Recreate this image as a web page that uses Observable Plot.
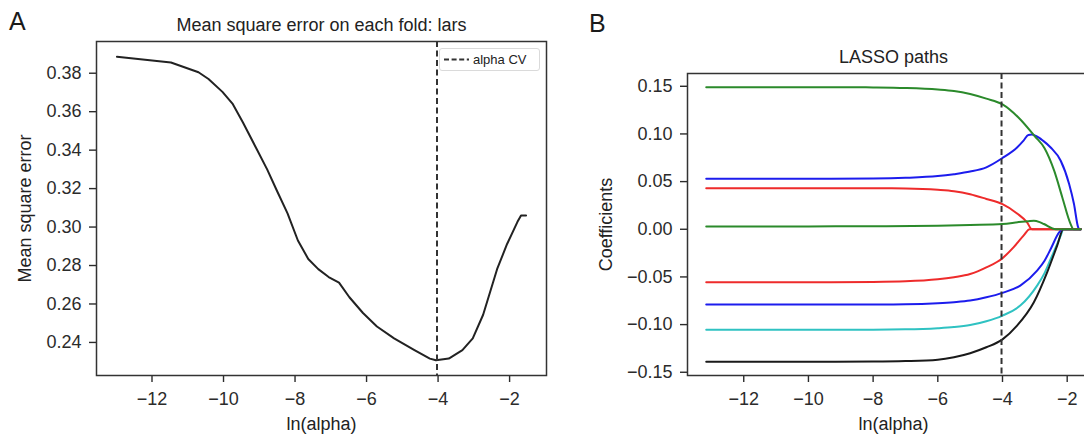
<!DOCTYPE html>
<html>
<head>
<meta charset="utf-8">
<script src="https://cdn.jsdelivr.net/npm/d3@7"></script>
<script src="https://cdn.jsdelivr.net/npm/@observablehq/plot@0.6"></script>
<style>
  html, body { margin: 0; padding: 0; background: #fff; overflow: hidden; }
  #root { position: relative; width: 1084px; height: 438px; overflow: hidden;
          font-family: "Liberation Sans", Arial, Helvetica, sans-serif; color: #222; }
  .panel { position: absolute; top: 0; }
  .letter { position: absolute; font-size: 25px; line-height: 1; color: #1a1a1a;
            font-family: "Liberation Sans", Arial, sans-serif; }
  .legend { position: absolute; box-sizing: border-box; border: 1px solid #dadada;
            border-radius: 3px; background: rgba(255,255,255,0.9); }
  .legend span { position: absolute; font-size: 13px; line-height: 1; white-space: nowrap; color: #222; }
  .legend svg { position: absolute; }
</style>
</head>
<body>
<div id="root"></div>
<script>
// ---------------- Panel A data: mean square error vs ln(alpha) ----------------
const titleA = "Mean square error on each fold: lars";
const yLabelA = "Mean square error";
const xLabel = "ln(alpha)";
const legendLabel = "alpha CV";
const alphaCV = -4.03;
const xTicks = [-12, -10, -8, -6, -4, -2];
const yTicksA = [0.24, 0.26, 0.28, 0.30, 0.32, 0.34, 0.36, 0.38];
const A_lnAlpha = [-12.98, -11.47, -10.70, -10.42, -10.03, -9.75, -9.46, -9.07, -8.78, -8.50, -8.21, -7.92,
                   -7.63, -7.35, -7.06, -6.77, -6.48, -6.10, -5.71, -5.23, -4.66, -4.23, -4.06, -3.70,
                   -3.32, -3.03, -2.74, -2.35, -2.07, -1.78, -1.68, -1.54];
const A_mse = [0.3886, 0.3856, 0.3805, 0.3770, 0.3703, 0.3642, 0.3545, 0.3405, 0.3300, 0.3186, 0.3071, 0.2930,
               0.2834, 0.2781, 0.2740, 0.2711, 0.2635, 0.2553, 0.2483, 0.2421, 0.2360, 0.2316, 0.2307, 0.2316,
               0.2360, 0.2421, 0.2544, 0.2781, 0.2912, 0.3027, 0.3060, 0.3060];

// ---------------- Panel B data: LASSO coefficient paths ----------------
const titleB = "LASSO paths";
const yLabelB = "Coefficients";
const yTicksB = [-0.15, -0.10, -0.05, 0.00, 0.05, 0.10, 0.15];

const blue1X = [-13.16, -10, -8, -7, -6, -5.5, -5, -4.5, -4, -3.55, -3.35, -3.2, -3.1, -2.98, -2.75, -2.51, -2.2, -1.94, -1.79, -1.66, -1.62, -1.58];
const blue1Y = [0.053, 0.053, 0.0533, 0.054, 0.0558, 0.0578, 0.0605, 0.0650, 0.0748, 0.0858, 0.0930, 0.0990, 0.0993, 0.0981, 0.0930, 0.0858, 0.0719, 0.0475, 0.0265, 0.002, 0, 0];

const red1X = [-13.16, -10, -8, -7, -6, -5.5, -5, -4.5, -4, -3.55, -3.24, -3.09, -1.58];
const red1Y = [0.043, 0.043, 0.0430, 0.0428, 0.0415, 0.0400, 0.0368, 0.0318, 0.0263, 0.0166, 0.0072, 0, 0];

const green1X = [-13.16, -11, -9, -8, -7, -6, -5.5, -5, -4.5, -4, -3.5, -3, -2.7, -2.4, -2.15, -1.9, -1.8, -1.58];
const green1Y = [0.149, 0.149, 0.149, 0.1488, 0.1482, 0.1466, 0.1450, 0.1418, 0.1370, 0.1310, 0.1170, 0.0975, 0.0850, 0.0612, 0.0334, 0.0060, 0, 0];

const cyanX = [-13.16, -10, -8, -7, -6, -5.5, -5, -4.5, -4, -3.45, -2.93, -2.7, -2.51, -2.2, -2.12, -1.58];
const cyanY = [-0.1055, -0.1055, -0.1053, -0.105, -0.1038, -0.1026, -0.1005, -0.0965, -0.0905, -0.0801, -0.0591, -0.0460, -0.0312, -0.0067, 0, 0];

const blackX = [-13.16, -10, -8, -7, -6, -5.5, -5, -4.5, -4, -3.55, -3.03, -2.62, -2.31, -2.12, -1.58];
const blackY = [-0.139, -0.139, -0.1388, -0.1383, -0.1368, -0.1342, -0.1300, -0.1238, -0.1155, -0.1011, -0.0766, -0.0452, -0.0172, 0, 0];

const blue2X = [-13.16, -10, -8, -7, -6, -5.5, -5, -4.5, -4, -3.45, -2.93, -2.7, -2.51, -2.25, -2.15, -1.58];
const blue2Y = [-0.079, -0.079, -0.0789, -0.0787, -0.0776, -0.0765, -0.0748, -0.0714, -0.0667, -0.0591, -0.0434, -0.0330, -0.0207, -0.0033, 0, 0];

const red2X = [-13.16, -10, -8, -7, -6, -5.5, -5, -4.5, -4, -3.66, -3.35, -3.16, -1.58];
const red2Y = [-0.0555, -0.0555, -0.0552, -0.0546, -0.0525, -0.0503, -0.0470, -0.0400, -0.0303, -0.019, -0.0067, 0, 0];

const green2X = [-13.16, -10, -8, -6, -5, -4, -3.5, -3.2, -3.03, -2.85, -2.72, -2.35, -1.58];
const green2Y = [0.003, 0.003, 0.0032, 0.0037, 0.0045, 0.0055, 0.0075, 0.0085, 0.009, 0.0075, 0.0055, 0, 0];

const pathColors = { blue: "#1c1ced", red: "#ee2b2b", green: "#2b8a2b", cyan: "#2fc2c2", black: "#1a1a1a" };
// draw order follows the b, r, g, c, k colour cycle
const paths = [
  { x: blue1X, y: blue1Y, color: pathColors.blue },
  { x: red1X, y: red1Y, color: pathColors.red },
  { x: green1X, y: green1Y, color: pathColors.green },
  { x: cyanX, y: cyanY, color: pathColors.cyan },
  { x: blackX, y: blackY, color: pathColors.black },
  { x: blue2X, y: blue2Y, color: pathColors.blue },
  { x: red2X, y: red2Y, color: pathColors.red },
  { x: green2X, y: green2Y, color: pathColors.green }
];

// ---------------- rendering ----------------
const font = '"Liberation Sans", Arial, Helvetica, sans-serif';
const fmtInt = d3.format("d");
const fmt2 = d3.format(".2f");
const ink = "#2b2b2b";
const root = document.getElementById("root");

function pad(ext) { const r = ext[1] - ext[0]; return [ext[0] - 0.05 * r, ext[1] + 0.05 * r]; }
const label = (t, opts) => Plot.text([t], { text: d => d, fontSize: 18, fill: "#222",
  lineAnchor: "middle", textAnchor: "middle", ...opts });

// Panel A
const xDomA = pad(d3.extent(A_lnAlpha));
const yDomA = pad(d3.extent(A_mse));
const rowsA = A_lnAlpha.map((x, i) => ({ x, y: A_mse[i] }));
const plotA = Plot.plot({
  width: 552, height: 438,
  marginLeft: 96, marginRight: 6, marginTop: 41, marginBottom: 63,
  style: { fontFamily: font, fontSize: "18px", color: ink, background: "transparent", overflow: "visible" },
  x: { domain: xDomA },
  y: { domain: yDomA },
  marks: [
    Plot.axisX({ ticks: xTicks, tickFormat: fmtInt, tickSize: 7, tickPadding: 10, label: null, strokeWidth: 1.4 }),
    Plot.axisY({ ticks: yTicksA, tickFormat: fmt2, tickSize: 7, tickPadding: 8, label: null, strokeWidth: 1.4 }),
    Plot.line(rowsA, { x: "x", y: "y", stroke: "#222", strokeWidth: 2 }),
    Plot.ruleX([alphaCV], { stroke: "#333", strokeWidth: 2, strokeDasharray: "6,3.5" }),
    Plot.frame({ stroke: "#333", strokeWidth: 1.5 }),
    label(titleA, { frameAnchor: "top", dy: -16 }),
    label(xLabel, { frameAnchor: "bottom", dy: 49 }),
    label(yLabelA, { frameAnchor: "left", dx: -71, rotate: -90 })
  ]
});
plotA.classList.add("panel");
plotA.style.left = "0px";
root.appendChild(plotA);

// Panel B
const allBX = paths.flatMap(p => p.x), allBY = paths.flatMap(p => p.y);
const xDomB = pad(d3.extent(allBX));
const yDomB = pad(d3.extent(allBY));
const plotB = Plot.plot({
  width: 565, height: 438,
  marginLeft: 147, marginRight: 6, marginTop: 73, marginBottom: 63,
  style: { fontFamily: font, fontSize: "18px", color: ink, background: "transparent", overflow: "visible" },
  x: { domain: xDomB },
  y: { domain: yDomB },
  marks: [
    Plot.axisX({ ticks: xTicks, tickFormat: fmtInt, tickSize: 7, tickPadding: 10, label: null, strokeWidth: 1.4 }),
    Plot.axisY({ ticks: yTicksB, tickFormat: fmt2, tickSize: 7, tickPadding: 8, label: null, strokeWidth: 1.4 }),
    ...paths.map(p => Plot.line(p.x.map((x, i) => ({ x, y: p.y[i] })),
      { x: "x", y: "y", stroke: p.color, strokeWidth: 2, curve: "monotone-x" })),
    Plot.ruleX([alphaCV], { stroke: "#333", strokeWidth: 2, strokeDasharray: "6,3.5" }),
    Plot.frame({ stroke: "#333", strokeWidth: 1.5 }),
    label(titleB, { frameAnchor: "top", dy: -16 }),
    label(xLabel, { frameAnchor: "bottom", dy: 49 }),
    label(yLabelB, { frameAnchor: "left", dx: -81, rotate: -90 })
  ]
});
plotB.classList.add("panel");
plotB.style.left = "540px";
root.appendChild(plotB);

// Panel letters
for (const [t, left, top] of [["A", 9, 8.5], ["B", 589, 10.5]]) {
  const d = document.createElement("div");
  d.className = "letter"; d.textContent = t;
  d.style.left = left + "px"; d.style.top = top + "px";
  root.appendChild(d);
}

// Legend for the alpha CV line (panel A)
const leg = document.createElement("div");
leg.className = "legend";
Object.assign(leg.style, { left: "439px", top: "48px", width: "101px", height: "23px" });
leg.innerHTML = `<svg width="30" height="21" style="left:3px;top:0px">
  <line x1="1" x2="26" y1="10.5" y2="10.5" stroke="#333" stroke-width="2" stroke-dasharray="5,2.6"/></svg>
  <span style="left:33px;top:4px">${legendLabel}</span>`;
root.appendChild(leg);
</script>
</body>
</html>
